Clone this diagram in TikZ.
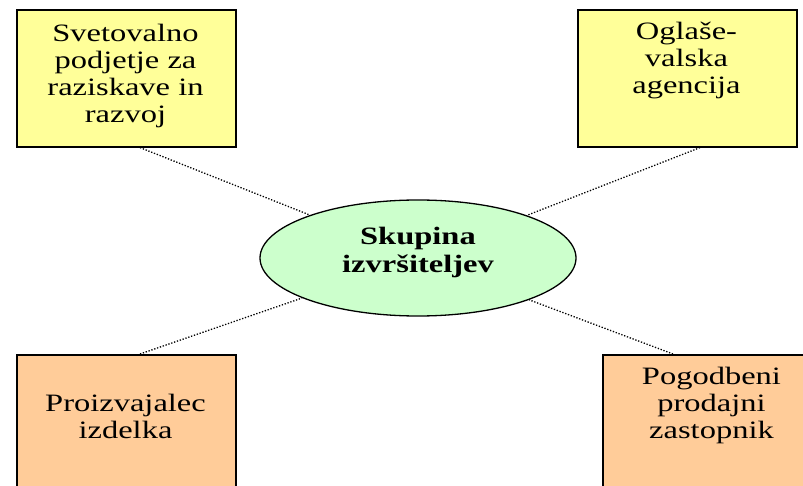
\documentclass[tikz,border=0pt]{standalone}
\usepackage{fontspec}
\setmainfont{Liberation Serif}[FakeStretch=1.3]
\usetikzlibrary{shapes.geometric}

\definecolor{paleyellow}{HTML}{FFFF99}
\definecolor{paleorange}{HTML}{FFCC99}
\definecolor{palegreen}{HTML}{CCFFCC}

\begin{document}
\begin{tikzpicture}[x=1pt, y=-1pt,
  box/.style={draw=black, line width=1.6pt, minimum width=219pt,
    inner sep=0pt, anchor=north west},
  boxtext/.style={align=center, inner sep=0pt, anchor=north,
    font=\fontsize{25pt}{27pt}\selectfont},
  hub/.style={ellipse, draw=black, line width=1.3pt, fill=palegreen,
    minimum width=316pt, minimum height=116pt, inner sep=0pt},
  hubtext/.style={align=center, inner sep=0pt, anchor=north,
    font=\fontsize{25pt}{28pt}\selectfont\bfseries},
  link/.style={dash pattern=on 1.3pt off 1.7pt, line width=1.3pt, draw=black}]

\useasboundingbox (0,0) rectangle (803,486);
\clip (0,0) rectangle (803,486);

% partner boxes
\node[box, fill=paleyellow, minimum height=137pt] (rd) at (16,9) {};
\node[box, fill=paleyellow, minimum height=137pt] (ad) at (577,9) {};
\node[box, fill=paleorange, minimum height=170pt] (mf) at (16,354) {};
\node[box, fill=paleorange, minimum height=170pt] (ag) at (602,354) {};

\node[boxtext] (rdt) at (125.5,24) {Svetovalno\\podjetje za\\raziskave in\\razvoj};
\node[boxtext] (adt) at (686.5,22) {Oglaše-\\valska\\agencija};
\node[boxtext] (mft) at (125.5,394) {Proizvajalec\\izdelka};
\node[boxtext] (agt) at (711.5,367) {Pogodbeni\\prodajni\\zastopnik};

% central group
\node[hub] (grp) at (418,258) {};
\node[hubtext] (grpt) at (418,227) {Skupina\\izvršiteljev};

% attachment points of the links on the boxes
\path (rd.south west) ++(124,0) coordinate (p1);
\path (ad.south west) ++(123,0) coordinate (p2);
\path (mf.north west) ++(124,0) coordinate (p3);
\path (ag.north west) ++(71,0) coordinate (p4);

\draw[link] (p1) -- (grp);
\draw[link] (p2) -- (grp);
\draw[link] (p3) -- (grp);
\draw[link] (p4) -- (grp);
\end{tikzpicture}
\end{document}
